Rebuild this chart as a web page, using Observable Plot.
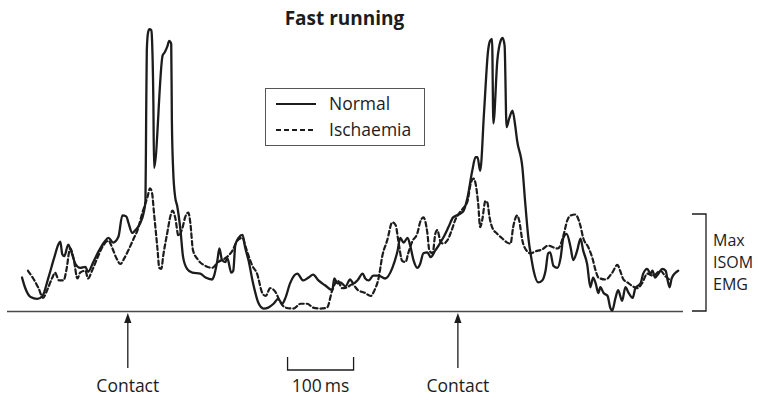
<!DOCTYPE html>
<html>
<head>
<meta charset="utf-8">
<script src="https://cdn.jsdelivr.net/npm/d3@7"></script>
<script src="https://cdn.jsdelivr.net/npm/@observablehq/plot@0.6"></script>
<style>
  body { margin: 0; background: #fff; }
  #wrap { width: 759px; height: 400px; }
  svg text { font-family: "Open Sans", sans-serif; }
</style>
</head>
<body>
<div id="wrap"></div>
<script>
// ---- data (time in ms from first foot contact, EMG in % of max isometric EMG) ----
const title = "Fast running";
const seriesNames = ["Normal", "Ischaemia"];
const normal = [[-161,35],[-156,24],[-148,15],[-138,13],[-130,16],[-121,35],[-112,56],[-106,69],[-103,72],[-100,59],[-97,57],[-91,69],[-88,65],[-80,49],[-73,45],[-65,46],[-61,41],[-53,51],[-45,62],[-36,72],[-30,76],[-23,71],[-15,77],[-9,99],[-3,98],[0,92],[6,81],[11,84],[18,91],[23,101],[26,114],[27,197],[28,269],[30,288],[32,291],[35,290],[36,279],[38,214],[39,148],[52,264],[55,267],[59,273],[62,279],[65,276],[66,197],[68,145],[71,118],[74,109],[79,84],[83,56],[89,44],[97,40],[109,39],[117,35],[127,33],[130,37],[135,53],[138,65],[142,53],[147,51],[150,55],[156,40],[159,42],[162,68],[167,76],[173,79],[177,66],[182,53],[189,29],[197,9],[205,3],[212,4],[220,8],[227,13],[233,8],[238,14],[245,29],[256,39],[265,32],[273,35],[280,38],[288,32],[298,27],[309,22],[312,34],[317,29],[321,30],[329,26],[336,33],[341,29],[347,32],[355,39],[359,34],[364,32],[371,37],[379,37],[389,34],[400,45],[408,63],[412,76],[417,71],[423,76],[427,68],[432,53],[438,45],[442,49],[447,60],[453,61],[458,56],[465,63],[470,68],[477,76],[485,87],[492,97],[503,101],[508,104],[514,118],[521,145],[526,159],[529,159],[533,145],[539,207],[545,269],[548,279],[551,281],[553,194],[559,259],[564,279],[567,282],[570,274],[573,190],[577,199],[582,207],[586,192],[589,176],[597,148],[601,114],[606,76],[611,53],[614,42],[621,30],[627,32],[632,42],[636,60],[639,61],[644,47],[650,45],[655,56],[659,76],[664,80],[670,66],[674,53],[680,63],[685,75],[689,63],[695,49],[700,25],[704,35],[708,29],[712,19],[715,25],[720,19],[726,16],[730,4],[733,1],[738,14],[742,22],[748,11],[753,25],[758,19],[764,14],[768,24],[776,29],[780,39],[786,44],[791,39],[794,42],[798,35],[803,39],[809,44],[814,42],[817,32],[820,25],[823,34],[829,40],[833,42]];
const ischaemia = [[-152,42],[-144,34],[-136,24],[-129,14],[-123,22],[-115,35],[-111,40],[-105,32],[-98,32],[-94,42],[-88,65],[-83,55],[-77,34],[-73,40],[-65,42],[-61,34],[-55,42],[-47,55],[-38,68],[-30,73],[-24,65],[-18,55],[-12,49],[-6,55],[0,63],[8,75],[14,84],[21,101],[29,118],[33,127],[36,122],[39,101],[44,66],[47,45],[50,44],[53,58],[59,81],[64,99],[67,104],[71,97],[76,78],[82,86],[86,97],[91,102],[94,91],[98,63],[106,53],[117,47],[127,45],[136,51],[147,55],[158,63],[165,73],[173,76],[177,68],[188,47],[195,39],[203,19],[208,16],[215,24],[223,20],[230,10],[238,4],[250,3],[261,8],[271,8],[280,4],[291,3],[301,4],[309,22],[317,32],[324,24],[332,25],[339,28],[348,22],[359,19],[367,16],[373,22],[379,34],[385,58],[392,73],[400,92],[405,89],[409,73],[415,52],[420,51],[424,60],[430,72],[438,81],[442,92],[447,97],[453,81],[456,63],[461,60],[465,80],[468,84],[473,72],[477,70],[483,73],[491,86],[495,94],[503,103],[508,107],[514,114],[518,130],[523,137],[526,132],[530,111],[533,87],[536,94],[541,114],[544,112],[547,98],[551,87],[559,80],[567,75],[574,71],[579,70],[583,87],[589,99],[592,94],[597,73],[603,63],[609,60],[617,62],[627,64],[636,68],[644,66],[651,65],[659,78],[665,94],[670,99],[677,100],[685,88],[689,76],[697,66],[703,55],[708,42],[712,35],[723,33],[733,40],[741,48],[745,42],[750,33],[756,30],[764,26],[771,24],[779,30],[786,39],[795,37],[806,42],[814,36],[821,32]];
const contactTimes = [0, 500];
const contactLabel = "Contact";
const scaleBar = [242, 342];          // 100 ms calibration bar
const scaleBarLabel = "100\u2009ms";
const maxIsomLevel = [0, 100];        // bracket: 0 to max isometric EMG
const maxIsomLabel = ["Max", "ISOM", "EMG"];

// ---- chart ----
const ink = "#1c1c1c";
const fs = 17.5;
const chart = Plot.plot({
  width: 759, height: 400,
  marginLeft: 7, marginRight: 76, marginTop: 20, marginBottom: 89,
  x: {domain: [-183, 841], axis: null},
  y: {domain: [0, 300], axis: null},
  style: {background: "white", fontFamily: "Open Sans, sans-serif"},
  marks: [
    Plot.ruleY([0], {stroke: "#4a4a4a", strokeWidth: 1.3}),
    Plot.line(ischaemia, {x: d => d[0], y: d => d[1], stroke: ink, strokeWidth: 2.2,
      strokeDasharray: "4.5,3", curve: "monotone-x", strokeLinejoin: "round"}),
    Plot.line(normal, {x: d => d[0], y: d => d[1], stroke: ink, strokeWidth: 2.3,
      curve: "monotone-x", strokeLinejoin: "round"}),
    Plot.text([title], {frameAnchor: "top", lineAnchor: "bottom", dy: 4, dx: -1,
      text: d => d, fontSize: 19, fontWeight: "bold", fill: ink})
  ]
});
document.getElementById("wrap").appendChild(chart);

// ---- annotations positioned with the chart's own scales ----
const sx = chart.scale("x"), sy = chart.scale("y");
const X = sx.apply ? v => sx.apply(v) : d3.scaleLinear(sx.domain, sx.range);
const Y = sy.apply ? v => sy.apply(v) : d3.scaleLinear(sy.domain, sy.range);
const svg = d3.select(chart);
const g = svg.append("g").attr("text-anchor", "start").attr("font-size", fs).attr("fill", ink);
const y0 = Y(0);

// contact arrows + labels
contactTimes.forEach(t => {
  const x = X(t);
  g.append("line").attr("x1", x).attr("x2", x).attr("y1", y0 + 10).attr("y2", y0 + 57)
    .attr("stroke", ink).attr("stroke-width", 1.3);
  g.append("path").attr("d", `M${x},${y0 + 2}L${x - 3.6},${y0 + 12}L${x + 3.6},${y0 + 12}Z`).attr("fill", ink);
  g.append("text").attr("x", x).attr("y", y0 + 81).attr("text-anchor", "middle").text(contactLabel);
});

// 100 ms bar
{
  const xa = X(scaleBar[0]), xb = X(scaleBar[1]), yb = y0 + 59;
  g.append("path").attr("d", `M${xa},${yb - 13}V${yb}H${xb}V${yb - 13}`)
    .attr("fill", "none").attr("stroke", ink).attr("stroke-width", 1.3);
  g.append("text").attr("x", (xa + xb) / 2).attr("y", y0 + 81).attr("text-anchor", "middle").text(scaleBarLabel);
}

// Max ISOM EMG bracket
{
  const xr = X(841) + 23, ya = Y(maxIsomLevel[0]), yb = Y(maxIsomLevel[1]);
  g.append("path").attr("d", `M${xr - 14},${yb}H${xr}V${ya}H${xr - 14}`)
    .attr("fill", "none").attr("stroke", ink).attr("stroke-width", 1.3);
  maxIsomLabel.forEach((s, i) => {
    g.append("text").attr("x", xr + 7).attr("y", yb + 32 + i * 22)
      .attr("font-size", 16).attr("text-anchor", "start").text(s);
  });
}

// legend
{
  const lx = 265, ly = 88, lw = 159, lh = 57;
  g.append("rect").attr("x", lx + 0.5).attr("y", ly + 0.5).attr("width", lw).attr("height", lh)
    .attr("fill", "white").attr("stroke", "#555").attr("stroke-width", 1);
  seriesNames.forEach((name, i) => {
    const yy = ly + 16 + i * 26;
    g.append("line").attr("x1", lx + 11).attr("x2", lx + 51).attr("y1", yy).attr("y2", yy)
      .attr("stroke", ink).attr("stroke-width", 2.2)
      .attr("stroke-dasharray", i === 1 ? "5,3" : null);
    g.append("text").attr("x", lx + 64).attr("y", yy + 6).attr("text-anchor", "start").text(name);
  });
}
</script>
</body>
</html>
